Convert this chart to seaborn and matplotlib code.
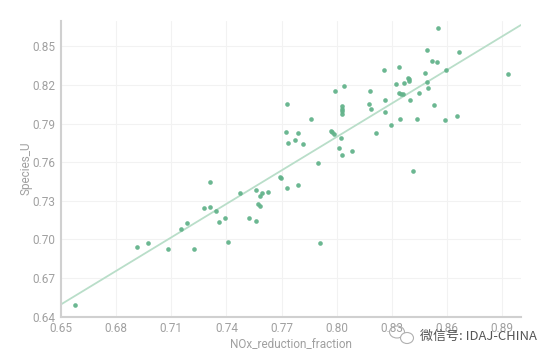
import numpy as np
import pandas as pd
import seaborn as sns
import matplotlib
matplotlib.use("Agg")
import matplotlib.pyplot as plt
from matplotlib.patches import Ellipse

# values
nox_reduction_fraction = [
    0.6576, 0.6912, 0.6975, 0.7081, 0.7153, 0.7188, 0.7224, 0.7278, 0.7309, 0.7311,
    0.7342, 0.7362, 0.7393, 0.7407, 0.7473, 0.7525, 0.7558, 0.7563, 0.7594, 0.7583,
    0.7628, 0.7572, 0.7583, 0.7692, 0.7698, 0.7729, 0.7789, 0.7908, 0.7897, 0.7732,
    0.7772, 0.7814, 0.7725, 0.7789, 0.7730, 0.7860, 0.7966, 0.7975, 0.7984, 0.8023,
    0.8010, 0.8026, 0.8080, 0.8030, 0.8030, 0.8030, 0.8030, 0.7990, 0.8037, 0.8177,
    0.8186, 0.8182, 0.8213, 0.8254, 0.8262, 0.8260, 0.8296, 0.8322, 0.8338, 0.8338,
    0.8349, 0.8360, 0.8342, 0.8367, 0.8389, 0.8393, 0.8393, 0.8396, 0.8416, 0.8434,
    0.8449, 0.8480, 0.8489, 0.8494, 0.8491, 0.8516, 0.8545, 0.8530, 0.8549, 0.8587,
    0.8596, 0.8656, 0.8663, 0.8930,
]
species_u = [
    0.6490, 0.6944, 0.6973, 0.6926, 0.7079, 0.7128, 0.6926, 0.7247, 0.7250, 0.7444,
    0.7219, 0.7138, 0.7165, 0.6983, 0.7363, 0.7169, 0.7141, 0.7382, 0.7359, 0.7338,
    0.7371, 0.7273, 0.7258, 0.7486, 0.7480, 0.7400, 0.7421, 0.6975, 0.7594, 0.7750,
    0.7770, 0.7744, 0.7833, 0.7825, 0.8050, 0.7934, 0.7845, 0.7833, 0.7822, 0.7790,
    0.7711, 0.7654, 0.7688, 0.8037, 0.8016, 0.7996, 0.7975, 0.8154, 0.8195, 0.8053,
    0.8016, 0.8154, 0.7827, 0.8317, 0.8084, 0.7991, 0.7890, 0.8206, 0.8343, 0.8136,
    0.8130, 0.8130, 0.7939, 0.8216, 0.8255, 0.8245, 0.8231, 0.8084, 0.7532, 0.7939,
    0.8140, 0.8294, 0.8221, 0.8179, 0.8472, 0.8387, 0.8377, 0.8045, 0.8641, 0.7928,
    0.8315, 0.7962, 0.8454, 0.8283,
]
x_ticks = [0.65, 0.68, 0.71, 0.74, 0.77, 0.80, 0.83, 0.86, 0.89]
y_ticks = [0.64, 0.67, 0.70, 0.73, 0.76, 0.79, 0.82, 0.85]

df = pd.DataFrame({'NOx_reduction_fraction': nox_reduction_fraction,
                   'Species_U': species_u})

sns.set_theme(style='white')
plt.rcParams['font.family'] = ['Roboto', 'Noto Sans CJK SC', 'DejaVu Sans']

fig = plt.figure(figsize=(5.54, 3.61), dpi=100)
ax = fig.add_axes([0.110, 0.123, 0.830, 0.820])
ax.set_xlim(0.65, 0.90)
ax.set_ylim(0.64, 0.87)

sns.regplot(
    data=df, x='NOx_reduction_fraction', y='Species_U', ax=ax,
    ci=None, truncate=False,
    scatter_kws={'s': 11, 'color': '#63b38b', 'linewidths': 0, 'alpha': 0.95, 'zorder': 3},
    line_kws={'color': '#b9dec9', 'linewidth': 1.3, 'zorder': 2},
)
ax.set_xlim(0.65, 0.90)
ax.set_ylim(0.64, 0.87)

ax.set_xticks(x_ticks)
ax.set_yticks(y_ticks)
ax.set_xticklabels([f'{t:.2f}' for t in x_ticks])
ax.set_yticklabels([f'{t:.2f}' for t in y_ticks])
ax.tick_params(axis='both', length=0, pad=4, labelsize=8.5, labelcolor='#a0a0a0')
ax.grid(True, color='#f2f2f2', linewidth=0.8)
ax.set_axisbelow(True)

for side in ['top', 'right']:
    ax.spines[side].set_visible(False)
for side in ['left', 'bottom']:
    ax.spines[side].set_color('#d0d0d0')
    ax.spines[side].set_linewidth(1.5)

ax.set_xlabel('NOx_reduction_fraction', fontsize=8.5, color='#a0a0a0', labelpad=1)
ax.set_ylabel('Species_U', fontsize=8.5, color='#a0a0a0', labelpad=0)

# watermark: small chat-bubble icon + account text
fig.add_artist(Ellipse((397 / 554, 1 - 332 / 361), 15 / 554, 12 / 361,
                       transform=fig.transFigure, fill=False,
                       edgecolor='#b0b0b0', linewidth=0.8))
fig.add_artist(Ellipse((407 / 554, 1 - 338 / 361), 13 / 554, 11 / 361,
                       transform=fig.transFigure, facecolor='white',
                       edgecolor='#b0b0b0', linewidth=0.8))
fig.text(537 / 554, 1 - 336 / 361, '微信号: IDAJ-CHINA', fontsize=9.4, color='#555555',
         family=['Noto Sans CJK SC', 'DejaVu Sans'], ha='right', va='center')

fig.savefig('out.png', dpi=100, facecolor='white')
